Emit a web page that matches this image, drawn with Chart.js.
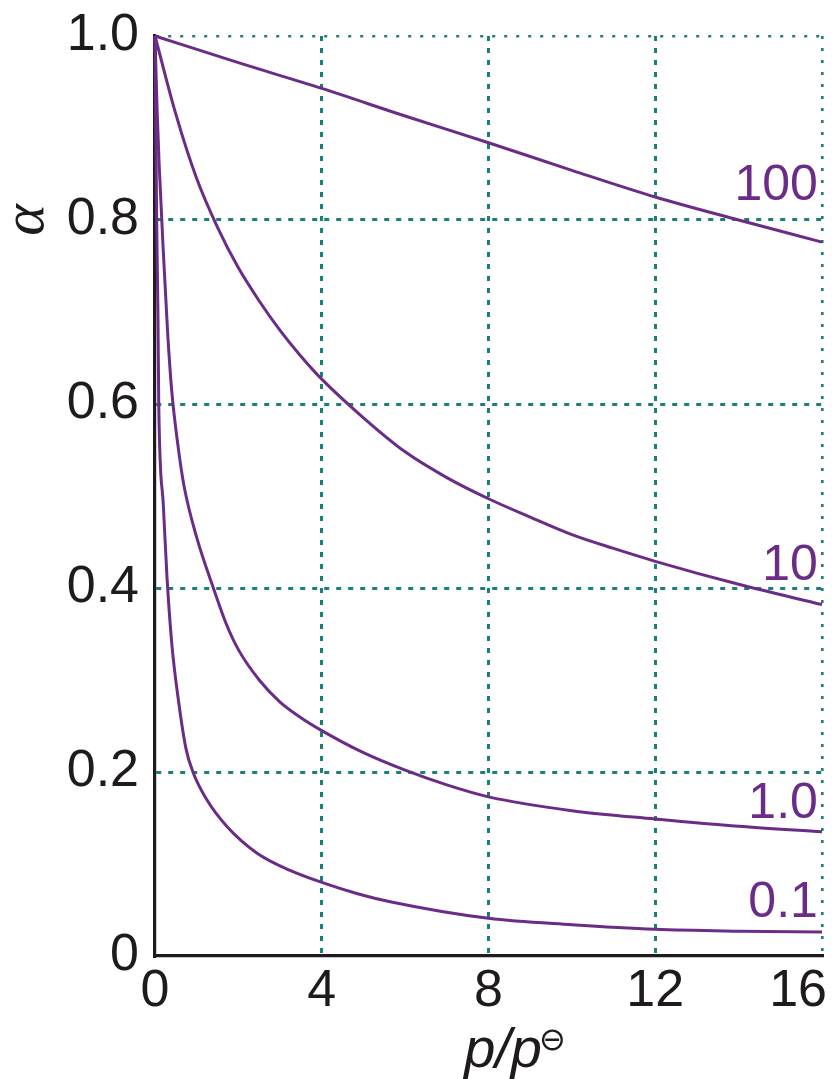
<!DOCTYPE html>
<html><head><meta charset="utf-8">
<script src="https://cdn.jsdelivr.net/npm/chart.js@4"></script>
<style>html,body{margin:0;padding:0;background:#fff}#wrap{width:832px;height:1079px;position:relative}</style>
</head><body><div id="wrap"><canvas id="c"></canvas></div>
<script>
// ---- data ----
const seriesNames = ['100', '10', '1.0', '0.1'];

const p100 = [0, 2, 4, 6, 8, 10, 12, 14, 16];
const a100 = [1.0, 0.971, 0.943, 0.913, 0.884, 0.854, 0.825, 0.800, 0.776];

const p10 = [0, 0.5, 1, 1.5, 2, 2.5, 3, 3.5, 4, 5, 6, 7, 8, 9, 10, 11, 12, 14, 16];
const a10 = [1.0, 0.915, 0.845, 0.792, 0.748, 0.712, 0.680, 0.652, 0.627, 0.585, 0.548, 0.520, 0.497, 0.477, 0.458, 0.443, 0.429, 0.404, 0.382];

const p1 = [0, 0.05, 0.1, 0.2, 0.3, 0.4, 0.55, 0.7, 1.0, 1.4, 1.7, 2, 2.5, 3, 3.5, 4, 5, 6, 7, 8, 10, 12, 14, 16];
const a1 = [1.0, 0.92, 0.86, 0.765, 0.68, 0.615, 0.555, 0.51, 0.455, 0.4, 0.362, 0.333, 0.300, 0.276, 0.259, 0.245, 0.221, 0.202, 0.186, 0.173, 0.158, 0.149, 0.141, 0.135];

const p01 = [0, 0.02, 0.04, 0.07, 0.09, 0.2, 0.29, 0.41, 0.55, 0.74, 0.91, 1.24, 1.72, 2.44, 3.24, 4.0, 4.84, 5.64, 8, 10, 12, 14, 16];
const a01 = [1.0, 0.9, 0.8, 0.7, 0.6, 0.49, 0.41, 0.336, 0.282, 0.226, 0.2, 0.170, 0.141, 0.112, 0.093, 0.080, 0.068, 0.059, 0.041, 0.034, 0.029, 0.027, 0.026];

const xTickValues = [0, 4, 8, 12, 16];
const xTickLabels = ['0', '4', '8', '12', '16'];
const yTickValues = [0, 0.2, 0.4, 0.6, 0.8, 1.0];
const yTickLabels = ['0', '0.2', '0.4', '0.6', '0.8', '1.0'];
const xTitle = 'p/p';
const xTitleSup = '\u2296';
const yTitle = '\u03B1';

// ---- styles ----
const PURPLE = '#6b2c87';
const TEAL = '#1a7f78';
const INK = '#1f1b1c';
const FONT = '"Liberation Sans", Arial, sans-serif';

const toPts = (xs, ys) => xs.map((x, i) => ({ x: x, y: ys[i] }));
const seriesData = [toPts(p100, a100), toPts(p10, a10), toPts(p1, a1), toPts(p01, a01)];

// label anchor (value coords) for the curve labels, right-aligned
const curveLabelAnchors = [
  { x: 15.9, y: 0.822 },
  { x: 15.9, y: 0.409 },
  { x: 15.9, y: 0.150 },
  { x: 15.9, y: 0.042 }
];

const overlay = {
  id: 'overlay',
  afterDraw(chart) {
    const { ctx, scales: { x, y }, chartArea } = chart;
    ctx.save();
    // x tick labels (kept inside the canvas)
    ctx.font = '52px ' + FONT;
    ctx.fillStyle = INK;
    ctx.textAlign = 'center';
    ctx.textBaseline = 'alphabetic';
    xTickValues.forEach((v, i) => {
      const t = xTickLabels[i];
      const w = ctx.measureText(t).width;
      let px = x.getPixelForValue(v);
      px = Math.min(px, chart.width - 5 - w / 2);
      ctx.fillText(t, px, chartArea.bottom + 50);
    });
    // x title
    ctx.font = 'italic 56px ' + FONT;
    const wMain = ctx.measureText(xTitle).width;
    ctx.font = '32px "DejaVu Sans", ' + FONT;
    const wSup = ctx.measureText(xTitleSup).width;
    const cx = (chartArea.left + chartArea.right) / 2 + 28;
    const startX = cx - (wMain + wSup) / 2;
    ctx.textAlign = 'left';
    ctx.font = 'italic 56px ' + FONT;
    ctx.fillText(xTitle, startX, chartArea.bottom + 111);
    ctx.font = '32px "DejaVu Sans", ' + FONT;
    ctx.fillText(xTitleSup, startX + wMain - 3, chartArea.bottom + 94);
    // y title
    ctx.save();
    ctx.translate(31, y.getPixelForValue(0.8));
    ctx.rotate(-Math.PI / 2);
    ctx.textAlign = 'center';
    ctx.textBaseline = 'middle';
    ctx.font = 'italic 60px "Liberation Serif", serif';
    ctx.fillText(yTitle, 0, -4);
    ctx.restore();
    // curve labels
    ctx.font = '50px ' + FONT;
    ctx.fillStyle = PURPLE;
    ctx.textAlign = 'right';
    ctx.textBaseline = 'alphabetic';
    seriesNames.forEach((n, i) => {
      const a = curveLabelAnchors[i];
      ctx.fillText(n, x.getPixelForValue(a.x), y.getPixelForValue(a.y));
    });
    ctx.restore();
  }
};

new Chart(document.getElementById('c'), {
  type: 'line',
  data: {
    datasets: seriesData.map((d, i) => ({
      label: seriesNames[i],
      data: d,
      borderColor: PURPLE,
      borderWidth: 3,
      pointRadius: 0,
      fill: false,
      cubicInterpolationMode: 'monotone',
      clip: 4
    }))
  },
  options: {
    responsive: true,
    maintainAspectRatio: false,
    animation: false,
    events: [],
    layout: { padding: { left: 0, right: 10, top: 36, bottom: 0 } },
    plugins: { legend: { display: false }, tooltip: { enabled: false } },
    scales: {
      x: {
        type: 'linear',
        min: 0, max: 16,
        afterBuildTicks: (s) => { s.ticks = xTickValues.map(v => ({ value: v })); },
        ticks: { display: false },
        grid: {
          drawTicks: false,
          color: (c) => (c.tick && c.tick.value === 0) ? 'rgba(0,0,0,0)' : TEAL,
          lineWidth: (c) => (c.tick && c.tick.value === 16) ? 2.6 : 3
        },
        border: {
          display: true, color: INK, width: 3.2,
          dash: (c) => (c.tick && c.tick.value === 16) ? [3, 9] : [5, 7]
        },
        afterFit: (s) => { s.height = 123; s.paddingLeft = 0; s.paddingRight = 0; }
      },
      y: {
        type: 'linear',
        min: 0, max: 1,
        afterBuildTicks: (s) => { s.ticks = yTickValues.map(v => ({ value: v })); },
        ticks: {
          padding: 16,
          color: INK,
          font: { family: FONT, size: 52 },
          callback: (v) => { const i = yTickValues.findIndex(t => Math.abs(t - v) < 1e-9); return i >= 0 ? yTickLabels[i] : ''; }
        },
        grid: {
          drawTicks: false,
          color: (c) => (c.tick && c.tick.value === 0) ? 'rgba(0,0,0,0)' : TEAL,
          lineWidth: (c) => (c.tick && c.tick.value === 1) ? 2.6 : 3
        },
        border: {
          display: true, color: INK, width: 3.2,
          dash: (c) => (c.tick && c.tick.value === 1) ? [3, 9] : [5, 7]
        },
        afterFit: (s) => { s.width = 155; s.paddingTop = 0; s.paddingBottom = 0; }
      }
    }
  },
  plugins: [overlay]
});
</script>
</body></html>
